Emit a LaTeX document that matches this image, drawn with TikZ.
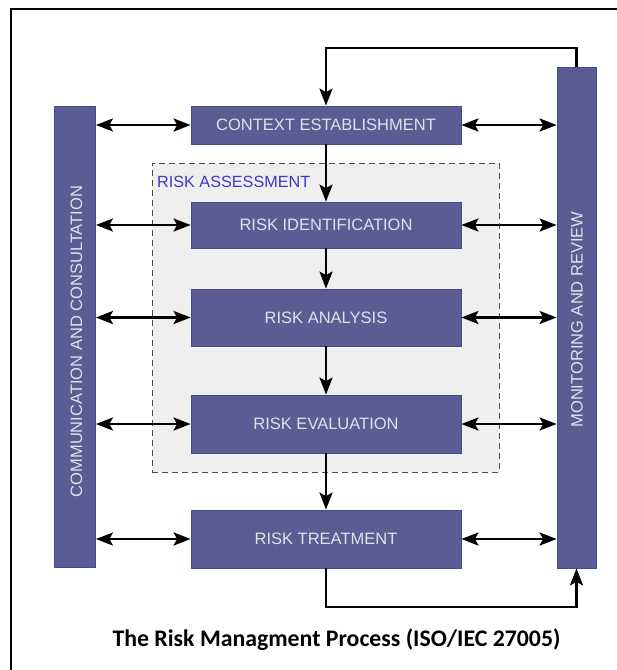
\documentclass[tikz,border=0pt]{standalone}
\usepackage{fontspec}
\setmainfont{Liberation Sans}
\newfontfamily\titlefont{Carlito}
\usetikzlibrary{arrows.meta}
\definecolor{boxfill}{RGB}{92,92,148}
\definecolor{boxedge}{RGB}{62,78,150}
\definecolor{boxtext}{RGB}{225,225,235}
\definecolor{assessblue}{RGB}{58,58,200}
\definecolor{assessfill}{RGB}{239,239,239}
\begin{document}
\begin{tikzpicture}[x=1pt,y=-1pt,
  tip/.tip={Stealth[length=17pt, width=13pt, inset=3.5pt]},
  procbox/.style={draw=boxedge, line width=0.8pt, fill=boxfill, text=boxtext,
    minimum width=270pt, inner sep=0pt, font=\fontsize{16.5}{16.5}\selectfont},
  sidebar/.style={draw=boxedge, line width=0.8pt, fill=boxfill, inner sep=0pt},
  bartext/.style={rotate=90, text=boxtext, font=\fontsize{16.5}{16.5}\selectfont},
  flow/.style={line width=2.4pt, -tip},
  both/.style={line width=2.4pt, tip-tip},
  loop/.style={line width=2.4pt, -tip}
]
\useasboundingbox (0,0) rectangle (617,670);
\fill[white] (0,0) rectangle (617,670);

% outer frame
\draw[line width=2.6pt] (11,672) -- (11,9) -- (619,9);

% risk assessment group
\node[draw=black!70, dashed, dash pattern=on 6pt off 4pt, line width=0.9pt,
      fill=assessfill, minimum width=347pt, minimum height=309pt, inner sep=0pt]
      (assess) at (325.5,317.5) {};
\node[anchor=north west, inner sep=0pt, text=assessblue,
      font=\fontsize{16.2}{16.2}\selectfont] (assesslbl) at (157,175.5) {RISK ASSESSMENT};

% process steps
\node[procbox, minimum height=38pt] (ctx)   at (326,125)   {CONTEXT ESTABLISHMENT};
\node[procbox, minimum height=46pt] (ident) at (326,225)   {RISK IDENTIFICATION};
\node[procbox, minimum height=57pt] (anal)  at (326,317.5) {RISK ANALYSIS};
\node[procbox, minimum height=58pt] (eval)  at (326,424)   {RISK EVALUATION};
\node[procbox, minimum height=58pt] (treat) at (326,539)   {RISK TREATMENT};

% side bars
\node[sidebar, minimum width=41pt, minimum height=461pt] (comm) at (75,336.5) {};
\node[bartext] (commlbl) at (76.5,341.5) {COMMUNICATION AND CONSULTATION};
\node[sidebar, minimum width=39pt, minimum height=501pt] (mon) at (576.5,317.5) {};
\node[bartext] (monlbl) at (577,319.5) {MONITORING AND REVIEW};

% main flow
\draw[flow] (ctx.south)   -- (ident.north);
\draw[flow] (ident.south) -- (anal.north);
\draw[flow] (anal.south)  -- (eval.north);
\draw[flow] (eval.south)  -- (treat.north);

% communication links
\foreach \b in {ctx,ident,anal,eval,treat}{
  \draw[both] (comm.east |- \b.west) -- (\b.west);
  \draw[both] (\b.east) -- (mon.west |- \b.east);
}

% feedback loops
\coordinate (topturn) at (326,48);
\coordinate (botturn) at (326,607);
\draw[loop] (mon.north) |- (topturn) -- (ctx.north);
\draw[loop] (treat.south) -- (botturn) -| (mon.south);

% caption
\node[font=\titlefont\bfseries\fontsize{23.8}{23.8}\selectfont] (title) at (336.5,640)
  {The Risk Managment Process (ISO/IEC 27005)};
\end{tikzpicture}
\end{document}
